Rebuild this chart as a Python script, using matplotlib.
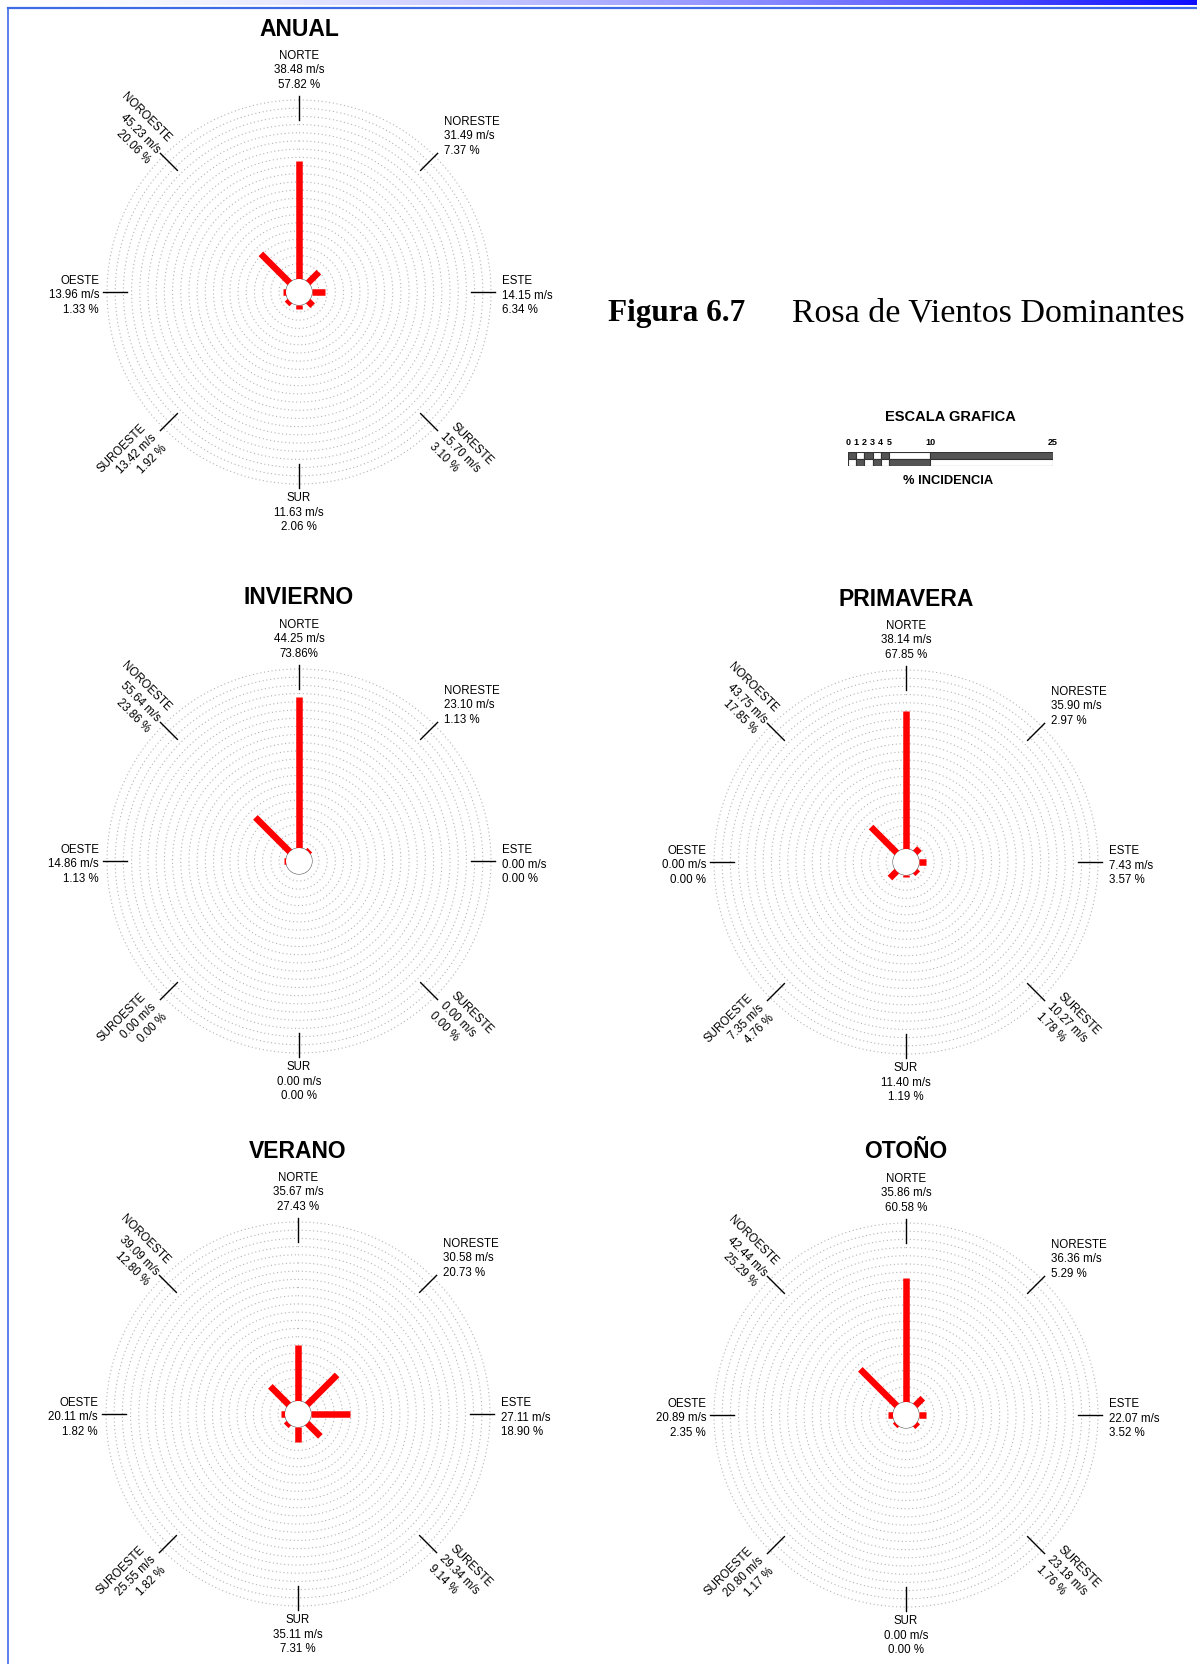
import matplotlib
matplotlib.use("Agg")
import matplotlib.pyplot as plt
import numpy as np
from matplotlib.lines import Line2D
from matplotlib.patches import Rectangle

W, H = 1197, 1664

# rumbos en sentido horario desde el norte
rumbos = ["NORTE", "NORESTE", "ESTE", "SURESTE", "SUR", "SUROESTE", "OESTE", "NOROESTE"]
angulos = [0, 45, 90, 135, 180, 225, 270, 315]

# velocidad (m/s) e incidencia (%) por estacion
vel_anual = [38.48, 31.49, 14.15, 15.70, 11.63, 13.42, 13.96, 45.23]
inc_anual = [57.82, 7.37, 6.34, 3.10, 2.06, 1.92, 1.33, 20.06]

vel_invierno = [44.25, 23.10, 0.00, 0.00, 0.00, 0.00, 14.86, 55.64]
inc_invierno = [73.86, 1.13, 0.00, 0.00, 0.00, 0.00, 1.13, 23.86]

vel_primavera = [38.14, 35.90, 7.43, 10.27, 11.40, 7.35, 0.00, 43.75]
inc_primavera = [67.85, 2.97, 3.57, 1.78, 1.19, 4.76, 0.00, 17.85]

vel_verano = [35.67, 30.58, 27.11, 29.34, 35.11, 25.55, 20.11, 39.09]
inc_verano = [27.43, 20.73, 18.90, 9.14, 7.31, 1.82, 1.82, 12.80]

vel_otono = [35.86, 36.36, 22.07, 23.18, 0.00, 20.80, 20.89, 42.44]
inc_otono = [60.58, 5.29, 3.52, 1.76, 0.00, 1.17, 2.35, 25.29]

# escala grafica
escala_ticks = [0, 1, 2, 3, 4, 5, 10, 25]

# geometria (pixeles)
PX_PCT = 2.04     # pixeles por % de incidencia
R0 = 13           # radio del circulo central
R_AX = 217        # radio del eje polar
r_origen = R0 / PX_PCT
r_max = R_AX / PX_PCT - r_origen


def px2r(px):
    return px / PX_PCT - r_origen


# estilo de las etiquetas por rumbo: (ha, va, rotacion, radio px, angulo de la etiqueta)
estilo_etq = {
    0: ("center", "bottom", 0, 201, 0),
    45: ("left", "center", 0, 213, 43),
    90: ("left", "center", 0, 203, 91),
    135: ("left", "center", -45, 202, 135),
    180: ("center", "top", 0, 200, 180),
    225: ("right", "center", 45, 204, 225),
    270: ("right", "center", 0, 200, 269),
    315: ("right", "center", -45, 199, 315),
}

fig = plt.figure(figsize=(W / 100, H / 100), dpi=100)
fig.patch.set_facecolor("white")


def rosa(cx, cy, titulo, vel, inc, sin_espacio=()):
    ax = fig.add_axes([(cx - R_AX) / W, 1 - (cy + R_AX) / H, 2 * R_AX / W, 2 * R_AX / H],
                      projection="polar")
    ax.set_theta_zero_location("N")
    ax.set_theta_direction(-1)
    ax.set_rlim(0, r_max)
    ax.set_rorigin(-r_origen)
    ax.set_axis_off()

    t = np.linspace(0, 2 * np.pi, 400)
    # anillos punteados
    for rp in np.linspace(20, 192, 22):
        ax.plot(t, np.full_like(t, px2r(rp)), color="#b4b4b4", lw=0.8,
                ls=(0, (1, 2.4)), zorder=1)
    # circulo central
    ax.plot(t, np.zeros_like(t), color="#555555", lw=0.8, zorder=3)

    for i, ang in enumerate(angulos):
        th = np.deg2rad(ang)
        # marca del rumbo
        ax.plot([th, th], [px2r(172), px2r(196)], color="black", lw=1.0, zorder=2)
        # barra de incidencia
        if inc[i] > 0:
            ax.plot([th, th], [0, inc[i]], color="#ff0000", lw=4.7,
                    solid_capstyle="butt", zorder=4)
        ha, va, rot, rp, ang_t = estilo_etq[ang]
        pct = f"{inc[i]:.2f}%" if i in sin_espacio else f"{inc[i]:.2f} %"
        txt = f"{rumbos[i]}\n{vel[i]:.2f} m/s\n{pct}"
        ax.text(np.deg2rad(ang_t), px2r(rp), txt, ha=ha, va=va, rotation=rot,
                rotation_mode="anchor", multialignment=ha, fontsize=8.3,
                family="Liberation Sans", linespacing=1.3, color="black")

    ax.text(0.5, 0.5 + 263 / (2 * R_AX), titulo, transform=ax.transAxes,
            ha="center", va="center", fontsize=16.5, fontweight="bold",
            family="Liberation Sans")
    return ax


rosa(299, 292, "ANUAL", vel_anual, inc_anual)
rosa(299, 861, "INVIERNO", vel_invierno, inc_invierno, sin_espacio=(0,))
rosa(906, 862, "PRIMAVERA", vel_primavera, inc_primavera)
rosa(298, 1414, "VERANO", vel_verano, inc_verano)
rosa(906, 1415, "OTOÑO", vel_otono, inc_otono)

# titulo de la figura
fig.text(608 / W, 1 - 321 / H, "Figura 6.7", fontsize=22.5, fontweight="bold",
         family="Liberation Serif", va="baseline", ha="left")
fig.text(792 / W, 1 - 321 / H, "Rosa de Vientos Dominantes", fontsize=24.5,
         family="Liberation Serif", va="baseline", ha="left")

# escala grafica
axe = fig.add_axes([848 / W, 1 - 466 / H, 205 / W, 14 / H])
axe.set_xlim(0, 25)
axe.set_ylim(0, 2)
axe.set_axis_off()
for j in range(len(escala_ticks) - 1):
    x0, x1 = escala_ticks[j], escala_ticks[j + 1]
    arriba = "#555555" if j % 2 == 0 else "white"
    abajo = "white" if j % 2 == 0 else "#555555"
    axe.add_patch(Rectangle((x0, 1), x1 - x0, 1, facecolor=arriba, edgecolor="#333333", lw=0.8))
    axe.add_patch(Rectangle((x0, 0), x1 - x0, 1, facecolor=abajo, edgecolor="#333333", lw=0.8))
for v in escala_ticks:
    axe.text(v, 3.3, str(v), ha="center", va="center", fontsize=6.5,
             fontweight="bold", family="Liberation Sans")
axe.text(12.5, 7.0, "ESCALA GRAFICA", ha="center", va="center", fontsize=10.5,
         fontweight="bold", family="Liberation Sans")
axe.text(12.2, -2.2, "% INCIDENCIA", ha="center", va="center", fontsize=9.3,
         fontweight="bold", family="Liberation Sans")

# marco azul y degradado superior
axg = fig.add_axes([0, 1 - 5 / H, 1, 5 / H])
axg.set_axis_off()
g = np.linspace(0, 1, 600)
col = np.stack([1 - 0.95 * g ** 1.6, 1 - 0.95 * g ** 1.6, np.ones_like(g)], axis=-1)
axg.imshow(col[None, :, :], aspect="auto", extent=(0, 1, 0, 1))
fig.add_artist(Line2D([8 / W, 1], [1 - 7.5 / H, 1 - 7.5 / H], transform=fig.transFigure,
                      color="#3f6be6", lw=1.6))
fig.add_artist(Line2D([8 / W, 8 / W], [0, 1 - 7.5 / H], transform=fig.transFigure,
                      color="#3f6be6", lw=1.2))

fig.savefig("out.png", dpi=100, facecolor="white")
